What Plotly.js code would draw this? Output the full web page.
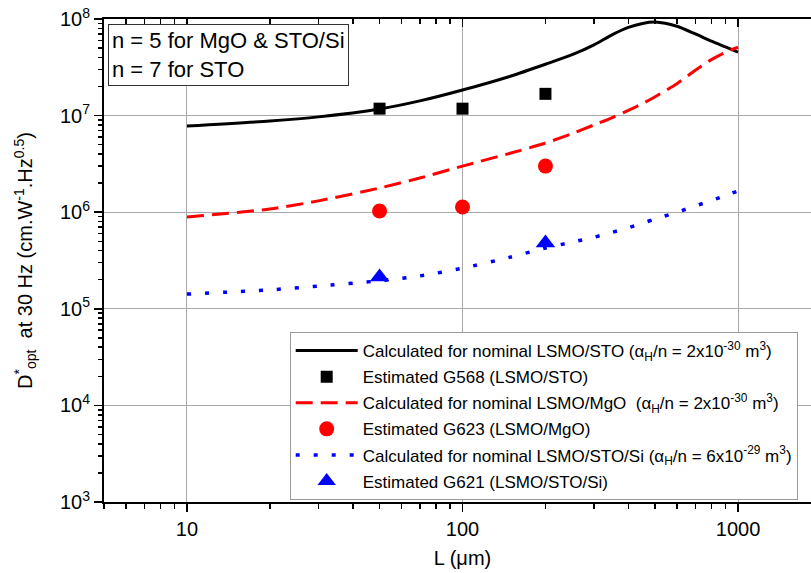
<!DOCTYPE html>
<html>
<head>
<meta charset="utf-8">
<script src="https://cdn.plot.ly/plotly-3.0.1.min.js"></script>
<style>
html,body{margin:0;padding:0;overflow:hidden;background:#fff;}
#chart{width:830px;height:573px;}
</style>
</head>
<body>
<div id="chart"></div>
<script>
// Calculated curves
var L_curve = [10, 20, 30, 50, 70, 100, 150, 200, 250, 300, 350, 400, 450, 500, 600, 700, 800, 900, 1000];
var D_calc_STO = [7.8e6, 8.8e6, 9.7e6, 1.17e7, 1.42e7, 1.84e7, 2.57e7, 3.4e7, 4.27e7, 5.4e7, 6.9e7, 8.2e7, 9.0e7, 9.3e7, 8.4e7, 7.0e7, 5.9e7, 5.15e7, 4.55e7];
var D_calc_MgO = [8.9e5, 1.08e6, 1.31e6, 1.78e6, 2.26e6, 3.0e6, 4.1e6, 5.2e6, 6.5e6, 8.0e6, 9.55e6, 1.135e7, 1.33e7, 1.57e7, 2.14e7, 2.95e7, 3.8e7, 4.52e7, 5.1e7];
var D_calc_Si = [1.42e5, 1.57e5, 1.72e5, 1.95e5, 2.19e5, 2.63e5, 3.44e5, 4.26e5, 4.9e5, 5.5e5, 6.2e5, 6.9e5, 7.7e5, 8.5e5, 1.0e6, 1.16e6, 1.32e6, 1.49e6, 1.66e6];

// Estimated points
var L_G568 = [50, 100, 200];
var D_G568 = [1.18e7, 1.18e7, 1.68e7];
var L_G623 = [50, 100, 200];
var D_G623 = [1.03e6, 1.13e6, 3.0e6];
var L_G621 = [50, 200];
var D_G621 = [2.13e5, 4.8e5];

// Labels
var names = [
  'Calculated for nominal LSMO/STO (α<sub>H</sub>/n = 2x10<sup>-30</sup> m<sup>3</sup>)',
  'Estimated G568 (LSMO/STO)',
  'Calculated for nominal LSMO/MgO  (α<sub>H</sub>/n = 2x10<sup>-30</sup> m<sup>3</sup>)',
  'Estimated G623 (LSMO/MgO)',
  'Calculated for nominal LSMO/STO/Si (α<sub>H</sub>/n = 6x10<sup>-29</sup> m<sup>3</sup>)',
  'Estimated G621 (LSMO/STO/Si)'
];
var xTickVals = [10, 100, 1000];
var xTickText = ['10', '100', '1000'];
var yTickVals = [1e3, 1e4, 1e5, 1e6, 1e7, 1e8];
var yTickText = ['10<sup>3</sup>', '10<sup>4</sup>', '10<sup>5</sup>', '10<sup>6</sup>', '10<sup>7</sup>', '10<sup>8</sup>'];
var noteText = 'n = 5 for MgO &amp; STO/Si<br>n = 7 for STO';

function minorVals(lo, hi) {
  var v = [];
  for (var e = lo; e < hi; e++) for (var m = 2; m <= 9; m++) v.push(m * Math.pow(10, e));
  return v;
}

var traces = [
  {x: L_curve, y: D_calc_STO, mode: 'lines', name: names[0], legendgroup: 'a', line: {color: '#000', width: 3, shape: 'spline', smoothing: 0.7}},
  {x: L_G568, y: D_G568, mode: 'markers', name: names[1], legendgroup: 'b', marker: {symbol: 'square', color: '#000', size: 12}},
  {x: L_curve, y: D_calc_MgO, mode: 'lines', name: names[2], legendgroup: 'c', line: {color: '#ff0000', width: 3, dash: '17px,8px', shape: 'spline', smoothing: 0.7}},
  {x: L_G623, y: D_G623, mode: 'markers', name: names[3], legendgroup: 'd', marker: {symbol: 'circle', color: '#ff0000', size: 15}},
  {x: L_curve, y: D_calc_Si, mode: 'lines', name: names[4], legendgroup: 'e', line: {color: '#0000ff', width: 3.5, dash: '4px,14px', shape: 'spline', smoothing: 0.7}},
  {x: L_G621, y: D_G621, mode: 'markers', name: names[5], legendgroup: 'f', marker: {symbol: 'triangle-up', color: '#0000ff', size: 17}},
  {x: [], y: [], xaxis: 'x2', yaxis: 'y', showlegend: false, hoverinfo: 'skip'}
];

var font = {family: '"Liberation Sans", Arial, sans-serif', color: '#000'};
var xr = [Math.log10(5), Math.log10(2000)];

var layout = {
  width: 830, height: 573,
  margin: {l: 104, r: 9, t: 19, b: 71},
  paper_bgcolor: '#fff', plot_bgcolor: '#fff',
  font: Object.assign({size: 20}, font),
  showlegend: true,
  legend: {
    x: 0.259, y: 0.352, xanchor: 'left', yanchor: 'top',
    bgcolor: '#fff', bordercolor: '#999', borderwidth: 1,
    font: Object.assign({size: 17}, font),
    itemwidth: 62, tracegroupgap: 1
  },
  xaxis: {
    type: 'log', range: xr,
    tickmode: 'array', tickvals: xTickVals, ticktext: xTickText,
    ticks: 'outside', ticklen: 8, tickwidth: 1.5, tickcolor: '#000',
    showline: true, linecolor: '#000', linewidth: 2,
    showgrid: true, gridcolor: '#aaa', gridwidth: 1,
    zeroline: false,
    tickfont: Object.assign({size: 20}, font),
    minor: {tickmode: 'array', tickvals: minorVals(0, 4), ticks: 'outside', ticklen: 5, tickwidth: 1.5, tickcolor: '#000', showgrid: false},
    title: {text: 'L (μm)', font: Object.assign({size: 20}, font), standoff: 12}
  },
  xaxis2: {
    type: 'log', range: xr, overlaying: 'x', side: 'top', anchor: 'y',
    tickmode: 'array', tickvals: xTickVals, showticklabels: false,
    ticks: 'inside', ticklen: 8, tickwidth: 1.5, tickcolor: '#000',
    showline: true, linecolor: '#000', linewidth: 2,
    showgrid: false, zeroline: false,
    minor: {tickmode: 'array', tickvals: minorVals(0, 4), ticks: 'inside', ticklen: 5, tickwidth: 1.5, tickcolor: '#000', showgrid: false}
  },
  yaxis: {
    type: 'log', range: [3, 8],
    tickmode: 'array', tickvals: yTickVals, ticktext: yTickText,
    ticks: 'outside', ticklen: 8, tickwidth: 1.5, tickcolor: '#000',
    showline: true, linecolor: '#000', linewidth: 2,
    showgrid: true, gridcolor: '#aaa', gridwidth: 1,
    zeroline: false,
    tickfont: Object.assign({size: 20}, font),
    minor: {tickmode: 'array', tickvals: minorVals(3, 8), ticks: 'outside', ticklen: 4, tickwidth: 1.5, tickcolor: '#000', showgrid: false},
    title: {text: 'D<sup>*</sup><sub>opt</sub>  at 30 Hz (cm.W<sup>-1</sup>.Hz<sup>0.5</sup>)', font: Object.assign({size: 20}, font), standoff: 22}
  },
  annotations: [{
    xref: 'paper', yref: 'paper', x: 0.006, y: 0.99, xanchor: 'left', yanchor: 'top',
    text: noteText, showarrow: false, align: 'left',
    font: Object.assign({size: 22}, font),
    bgcolor: '#fff', bordercolor: '#333', borderwidth: 1, borderpad: 3
  }]
};

Plotly.newPlot('chart', traces, layout, {displayModeBar: false, staticPlot: true});
</script>
</body>
</html>
